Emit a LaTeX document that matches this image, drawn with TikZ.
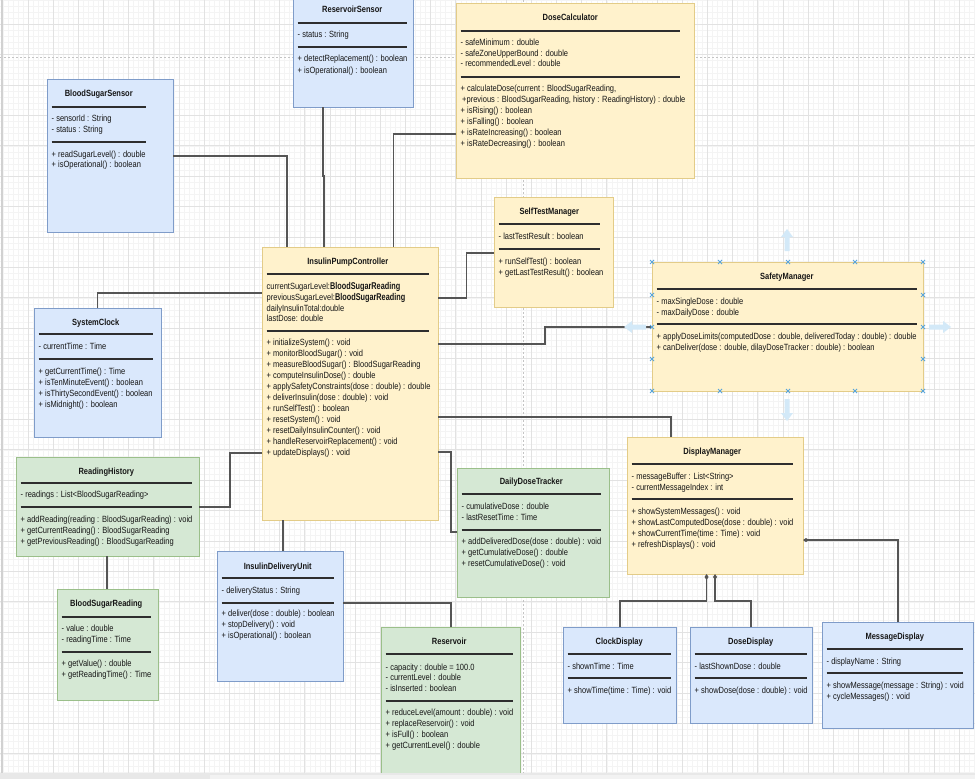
\documentclass[tikz,border=0pt]{standalone}
\usepackage{fontspec}
\setmainfont{Liberation Sans}
\usetikzlibrary{arrows.meta,calc}
\definecolor{bluefill}{HTML}{DAE8FC}
\definecolor{blueline}{HTML}{7F9CC9}
\definecolor{yelfill}{HTML}{FFF2CC}
\definecolor{yelline}{HTML}{E3CC88}
\definecolor{grnfill}{HTML}{D5E8D4}
\definecolor{grnline}{HTML}{9BBF8A}
\definecolor{txtcol}{HTML}{161616}
\definecolor{conncol}{HTML}{555555}
\definecolor{gridminor}{HTML}{F4F4F4}
\definecolor{gridmajor}{HTML}{E2E2E2}
\definecolor{pageline}{HTML}{C4C4C4}
\definecolor{handlecol}{HTML}{5AA5DA}
\definecolor{selarrowcol}{HTML}{D3E9F8}
\tikzset{
 bluebox/.style={draw=blueline, fill=bluefill, line width=0.9pt, inner sep=0pt, outer sep=0pt},
 yelbox/.style={draw=yelline, fill=yelfill, line width=0.9pt, inner sep=0pt, outer sep=0pt},
 grnbox/.style={draw=grnline, fill=grnfill, line width=0.9pt, inner sep=0pt, outer sep=0pt},
 ttl/.style={font=\fontsize{7.5}{9}\selectfont\bfseries, inner sep=0pt, text=txtcol, anchor=mid},
 txt/.style={font=\fontsize{7.5}{9}\selectfont, inner sep=0pt, anchor=mid west, text=txtcol, xshift=4.5pt},
 sepline/.style={draw=black!82, line width=1.3pt},
 conn/.style={draw=conncol, line width=1.1pt},
 comp/.style={conn, -{Diamond[length=6pt,width=4pt]}},
 handle/.style={draw=handlecol, line width=0.8pt},
 selarrow/.style={fill=selarrowcol},
}
\newcommand\vstretch[1]{\scalebox{1}[1.2]{#1}}
\newcommand\umlbox[6]{\node[#2, minimum width={#5-#3}, minimum height={#6-#4}, anchor=north west] (#1) at (#3,#4) {};}
\newcommand\umltitle[4]{\node[ttl] (#1-t) at ($(#1.west |- 0,#2)!0.5!({#3+4.5},#2)$) {\vstretch{#4}};}
\newcommand\umlsep[3]{\draw[sepline] (#1.west |- 0,#2) ++(4.5,0) -- (#3,#2);}
\newcommand\umllines[5]{\foreach \tx [count=\i] in {#5} {\pgfmathsetmacro\yy{#3+#4*(\i-1)}\node[txt] (#1-#2\i) at (#1.west |- 0,\yy) {\vstretch{\tx}};}}
\newcommand\bigtype[1]{\scalebox{1}[1.12]{\fontsize{7.3}{9}\selectfont\bfseries #1}}
\newcommand\selarrowat[3]{\begin{scope}[shift={(#1,#2)},rotate=#3]\fill[selarrow] (0,-2.5) -- (14,-2.5) -- (14,-6) -- (22,0) -- (14,6) -- (14,2.5) -- (0,2.5) -- cycle;\end{scope}}
\begin{document}
\begin{tikzpicture}[x=1pt,y=-1pt]
\useasboundingbox (0,0) rectangle (975,779);
\clip (0,0) rectangle (975,779);
\fill[white] (0,0) rectangle (975,779);
% grid
\foreach \k in {0,...,194} \draw[gridminor, line width=0.4pt] ({2.7+5.034*\k},0) -- ({2.7+5.034*\k},779);
\foreach \k in {0,...,130} \draw[gridminor, line width=0.4pt] (0,{-6.2+6.08*\k}) -- (975,{-6.2+6.08*\k});
\foreach \k in {0,...,38} \draw[gridmajor, line width=0.7pt] ({2.7+25.17*\k},0) -- ({2.7+25.17*\k},779);
\foreach \k in {0,...,26} \draw[gridmajor, line width=0.7pt] (0,{-6.2+30.4*\k}) -- (975,{-6.2+30.4*\k});
% page breaks
\draw[pageline, dash pattern=on 2pt off 2pt, line width=0.8pt] (0,57) -- (975,57);
\draw[pageline, dash pattern=on 2pt off 2pt, line width=0.8pt] (523,0) -- (523,779);
\draw[draw=black!18, line width=1.5pt] (2,0) -- (2,779);

% ReservoirSensor
\umlbox{rs}{bluebox}{293}{-2}{413}{107}
\umltitle{rs}{10}{407}{ReservoirSensor}
\umlsep{rs}{23}{407}
\umllines{rs}{a}{35}{11}{- status : String}
\umlsep{rs}{47}{407}
\umllines{rs}{m}{59}{12}{+ detectReplacement() : boolean, + isOperational() : boolean}

% BloodSugarSensor
\umlbox{bss}{bluebox}{47}{79}{173}{232}
\umltitle{bss}{94}{146}{BloodSugarSensor}
\umlsep{bss}{107}{146}
\umllines{bss}{a}{119}{10.5}{- sensorId : String, - status : String}
\umlsep{bss}{142}{146}
\umllines{bss}{m}{155}{10}{+ readSugarLevel() : double, + isOperational() : boolean}

% DoseCalculator
\umlbox{dc}{yelbox}{456}{3}{694}{178}
\umltitle{dc}{18}{680}{DoseCalculator}
\umlsep{dc}{31}{680}
\umllines{dc}{a}{43}{10.5}{- safeMinimum : double, - safeZoneUpperBound : double, - recommendedLevel : double}
\umlsep{dc}{77}{680}
\umllines{dc}{m}{89}{11}{{+ calculateDose(current : BloodSugarReading,}, {\hspace*{1.5pt}+previous : BloodSugarReading, history : ReadingHistory) : double}, + isRising() : boolean, + isFalling() : boolean, + isRateIncreasing() : boolean, + isRateDecreasing() : boolean}

% SelfTestManager
\umlbox{stm}{yelbox}{494}{197}{613}{307}
\umltitle{stm}{212}{600}{SelfTestManager}
\umlsep{stm}{224}{600}
\umllines{stm}{a}{237}{11}{- lastTestResult : boolean}
\umlsep{stm}{249}{600}
\umllines{stm}{m}{262}{10.5}{+ runSelfTest() : boolean, + getLastTestResult() : boolean}

% InsulinPumpController
\umlbox{ipc}{yelbox}{262}{247}{438}{520}
\umltitle{ipc}{262}{429}{InsulinPumpController}
\umlsep{ipc}{274}{429}
\umllines{ipc}{a}{287}{10.7}{{currentSugarLevel:\bigtype{BloodSugarReading}}, {previousSugarLevel:\bigtype{BloodSugarReading}}, dailyInsulinTotal:double, lastDose: double}
\umlsep{ipc}{331}{429}
\umllines{ipc}{m}{343}{11}{+ initializeSystem() : void, + monitorBloodSugar() : void, + measureBloodSugar() : BloodSugarReading, + computeInsulinDose() : double, + applySafetyConstraints(dose : double) : double, + deliverInsulin(dose : double) : void, + runSelfTest() : boolean, + resetSystem() : void, + resetDailyInsulinCounter() : void, + handleReservoirReplacement() : void, + updateDisplays() : void}

% SafetyManager
\umlbox{sm}{yelbox}{652}{262}{923}{391}
\umltitle{sm}{277}{917}{SafetyManager}
\umlsep{sm}{289}{917}
\umllines{sm}{a}{302}{10.5}{- maxSingleDose : double, - maxDailyDose : double}
\umlsep{sm}{324}{917}
\umllines{sm}{m}{337}{10.5}{{+ applyDoseLimits(computedDose : double, deliveredToday : double) : double}, {+ canDeliver(dose : double, dilayDoseTracker : double) : boolean}}

% SystemClock
\umlbox{sc}{bluebox}{34}{308}{161}{437}
\umltitle{sc}{323}{153}{SystemClock}
\umlsep{sc}{334}{153}
\umllines{sc}{a}{347}{11}{- currentTime : Time}
\umlsep{sc}{359}{153}
\umllines{sc}{m}{372}{11}{+ getCurrentTime() : Time, + isTenMinuteEvent() : boolean, + isThirtySecondEvent() : boolean, + isMidnight() : boolean}

% ReadingHistory
\umlbox{rh}{grnbox}{16}{457}{199}{556}
\umltitle{rh}{472}{192}{ReadingHistory}
\umlsep{rh}{483}{192}
\umllines{rh}{a}{495}{11}{- readings : List<BloodSugarReading>}
\umlsep{rh}{507}{192}
\umllines{rh}{m}{520}{11}{+ addReading(reading : BloodSugarReading) : void, + getCurrentReading() : BloodSugarReading, + getPreviousReading() : BloodSugarReading}

% BloodSugarReading
\umlbox{bsr}{grnbox}{57}{589}{158}{700}
\umltitle{bsr}{604}{151}{BloodSugarReading}
\umlsep{bsr}{617}{151}
\umllines{bsr}{a}{629}{11}{- value : double, - readingTime : Time}
\umlsep{bsr}{652}{151}
\umllines{bsr}{m}{664}{11}{+ getValue() : double, + getReadingTime() : Time}

% InsulinDeliveryUnit
\umlbox{idu}{bluebox}{217}{551}{343}{681}
\umltitle{idu}{567}{334}{InsulinDeliveryUnit}
\umlsep{idu}{578}{334}
\umllines{idu}{a}{591}{11}{- deliveryStatus : String}
\umlsep{idu}{603}{334}
\umllines{idu}{m}{614}{11}{+ deliver(dose : double) : boolean, + stopDelivery() : void, + isOperational() : boolean}

% DailyDoseTracker
\umlbox{ddt}{grnbox}{457}{468}{609}{597}
\umltitle{ddt}{482}{601}{DailyDoseTracker}
\umlsep{ddt}{494}{601}
\umllines{ddt}{a}{507}{11}{- cumulativeDose : double, - lastResetTime : Time}
\umlsep{ddt}{530}{601}
\umllines{ddt}{m}{542}{11}{+ addDeliveredDose(dose : double) : void, + getCumulativeDose() : double, + resetCumulativeDose() : void}

% Reservoir
\umlbox{res}{grnbox}{381}{627}{520}{790}
\umltitle{res}{642}{513}{Reservoir}
\umlsep{res}{654}{513}
\umllines{res}{a}{668}{10.3}{- capacity : double = 100.0, - currentLevel : double, - isInserted : boolean}
\umlsep{res}{701}{513}
\umllines{res}{m}{713}{10.8}{+ reduceLevel(amount : double) : void, + replaceReservoir() : void, + isFull() : boolean, + getCurrentLevel() : double}

% DisplayManager
\umlbox{dm}{yelbox}{627}{437}{803}{574}
\umltitle{dm}{452}{793}{DisplayManager}
\umlsep{dm}{464}{793}
\umllines{dm}{a}{477}{11}{- messageBuffer : List<String>, - currentMessageIndex : int}
\umlsep{dm}{499}{793}
\umllines{dm}{m}{512}{11}{+ showSystemMessages() : void, + showLastComputedDose(dose : double) : void, + showCurrentTime(time : Time) : void, + refreshDisplays() : void}

% ClockDisplay
\umlbox{cd}{bluebox}{563}{627}{676}{723}
\umltitle{cd}{642}{671}{ClockDisplay}
\umlsep{cd}{654}{671}
\umllines{cd}{a}{667}{11}{- shownTime : Time}
\umlsep{cd}{678}{671}
\umllines{cd}{m}{691}{11}{+ showTime(time : Time) : void}

% DoseDisplay
\umlbox{dd}{bluebox}{690}{627}{812}{723}
\umltitle{dd}{642}{807}{DoseDisplay}
\umlsep{dd}{654}{807}
\umllines{dd}{a}{667}{11}{- lastShownDose : double}
\umlsep{dd}{678}{807}
\umllines{dd}{m}{691}{11}{+ showDose(dose : double) : void}

% MessageDisplay
\umlbox{md}{bluebox}{822}{622}{973}{728}
\umltitle{md}{637}{963}{MessageDisplay}
\umlsep{md}{649}{963}
\umllines{md}{a}{662}{11}{- displayName : String}
\umlsep{md}{673}{963}
\umllines{md}{m}{686}{11}{+ showMessage(message : String) : void, + cycleMessages() : void}

% connectors
\draw[conn] (bss.east |- 0,156) -| (ipc.north -| 287,0);
\draw[conn] (rs.south -| 323,0) -- (323,176) -- (324,176) -- (ipc.north -| 324,0);
\draw[conn] (dc.west |- 0,134) -| (ipc.north -| 393.5,0);
\draw[conn] (stm.west |- 0,253) -| (466.5,298) -- (ipc.east |- 0,298);
\draw[conn] (sm.west |- 0,327) -| (545,344) -- (ipc.east |- 0,344);
\draw[conn] (ipc.east |- 0,417) -| (dm.north -| 671,0);
\draw[conn] (ipc.east |- 0,452) -| (451,532) -- (ddt.west |- 0,532);
\draw[conn] (ipc.west |- 0,453) -| (230,507) -- (rh.east |- 0,507);
\draw[conn] (sc.north -| 97.5,0) |- (ipc.west |- 0,293);
\draw[conn] (ipc.south -| 283,0) -- (idu.north -| 283,0);
\draw[conn] (idu.east |- 0,603) -| (res.north -| 451,0);
\draw[conn] (rh.south -| 107,0) -- (bsr.north -| 107,0);
\draw[comp] (cd.north -| 620,0) |- (706.5,601) -- (dm.south -| 706.5,0);
\draw[comp] (dd.north -| 751,0) |- (715,601) -- (dm.south -| 715,0);
\draw[comp] (md.north -| 898,0) |- (dm.east |- 0,540);

% selection handles on SafetyManager
\foreach \hx in {652,720,788,855,923} \foreach \hy in {262,391}
  \draw[handle] (\hx-2,\hy-2) -- (\hx+2,\hy+2) (\hx-2,\hy+2) -- (\hx+2,\hy-2);
\foreach \hx in {652,923} \foreach \hy in {295,327,359}
  \draw[handle] (\hx-2,\hy-2) -- (\hx+2,\hy+2) (\hx-2,\hy+2) -- (\hx+2,\hy-2);
\selarrowat{787}{251}{90}
\selarrowat{787}{399}{-90}
\selarrowat{646}{327}{180}
\selarrowat{929}{327}{0}

% bottom scroll bar
\fill[black!9] (0,773) rectangle (975,779);
\fill[black!5] (210,774.5) rectangle (975,779);
\end{tikzpicture}
\end{document}
